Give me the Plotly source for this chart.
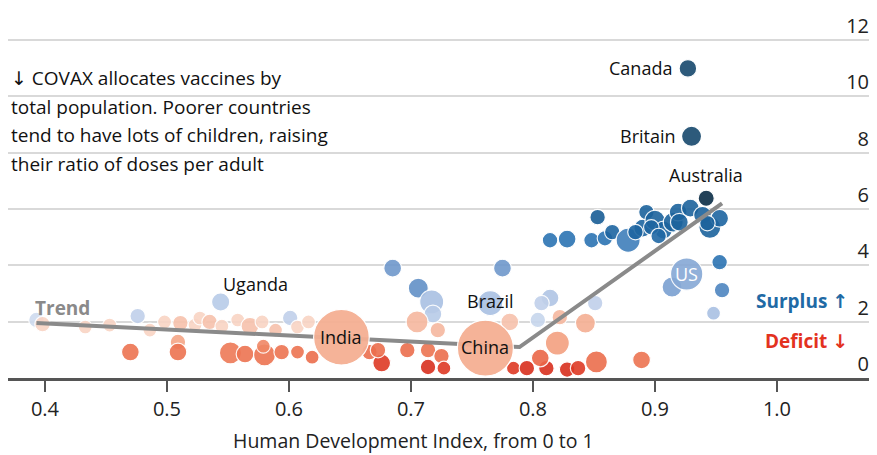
import plotly.graph_objects as go

# ---- data ----
hdi = [0.393, 0.398, 0.433, 0.453, 0.476, 0.486, 0.498, 0.511, 0.523, 0.527,
       0.535, 0.545, 0.544, 0.558, 0.568, 0.578, 0.589, 0.601, 0.607, 0.616,
       0.470, 0.509, 0.509, 0.552, 0.564, 0.580, 0.594, 0.607, 0.619, 0.579,
       0.666, 0.676,
       0.685, 0.706, 0.717, 0.718, 0.705, 0.722, 0.673, 0.697, 0.714, 0.725,
       0.714, 0.727, 0.775, 0.765, 0.781,
       0.784, 0.795, 0.811, 0.820, 0.828, 0.837,
       0.814, 0.807, 0.804, 0.851, 0.822, 0.843, 0.820, 0.806, 0.852, 0.889,
       0.814, 0.828, 0.848, 0.859, 0.865, 0.853, 0.878, 0.890, 0.893, 0.900,
       0.907, 0.915, 0.919, 0.929, 0.939, 0.945, 0.953, 0.920, 0.943, 0.897,
       0.884, 0.903,
       0.953, 0.955, 0.948, 0.914, 0.926, 0.927, 0.930, 0.942, 0.643, 0.761]
doses = [2.06, 1.91, 1.81, 1.88, 2.20, 1.70, 1.99, 1.95, 1.88, 2.13,
         1.99, 1.84, 2.70, 2.06, 1.84, 1.99, 1.70, 2.13, 1.81, 1.99,
         0.92, 1.28, 0.92, 0.89, 0.85, 0.82, 0.92, 0.92, 0.74, 1.13,
         0.92, 0.53,
         3.90, 3.19, 2.70, 2.27, 1.99, 1.70, 0.99, 0.99, 0.99, 0.78,
         0.39, 0.35, 3.90, 2.66, 1.99,
         0.35, 0.35, 0.35, -0.05, 0.30, 0.35,
         2.84, 2.66, 2.06, 2.66, 2.16, 1.95, 1.24, 0.71, 0.57, 0.64,
         4.89, 4.93, 4.89, 4.96, 5.18, 5.71, 4.89, 5.32, 5.89, 5.60,
         5.25, 5.53, 5.89, 6.03, 5.78, 5.35, 5.67, 5.53, 5.50, 5.35,
         5.18, 5.04,
         4.11, 3.12, 2.30, 3.23, 3.69, 10.99, 8.58, 6.38, 1.45, 1.06]
population = [20, 20, 10, 10, 20, 10, 10, 20, 10, 10,
              20, 10, 45, 10, 40, 10, 10, 20, 10, 10,
              40, 20, 40, 95, 40, 95, 20, 10, 10, 10,
              20, 40,
              40, 66, 130, 40, 95, 20, 20, 20, 20, 20,
              20, 10, 40, 150, 40,
              10, 20, 20, 20, 20, 20,
              40, 20, 20, 20, 20, 66, 130, 40, 95, 40,
              20, 40, 20, 20, 20, 20, 130, 40, 20, 66,
              40, 66, 40, 40, 40, 95, 40, 40, 20, 20,
              20, 20,
              20, 20, 10, 66, 330, 38, 67, 25, 1380, 1400]
balance = [0.5, 0.0, 0.0, 0.0, 0.7, 0.0, 0.0, -0.2, 0.0, 0.0,
           -0.2, 0.0, 0.8, 0.0, -0.2, 0.0, -0.2, 0.7, 0.0, 0.0,
           -1.3, -0.5, -1.3, -1.2, -1.3, -1.3, -1.3, -1.3, -1.4, -1.0,
           -1.4, -2.3,
           2.0, 2.2, 1.0, 0.8, -0.3, -0.3, -1.4, -1.4, -1.3, -1.4,
           -2.5, -2.3, 2.0, 1.0, -0.2,
           -2.3, -2.5, -2.5, -3.0, -2.5, -2.3,
           0.9, 0.7, 0.6, 0.7, -0.3, -0.4, -0.6, -1.5, -1.4, -1.3,
           3.0, 3.0, 3.0, 3.0, 3.5, 3.8, 2.7, 3.5, 3.6, 3.6,
           3.5, 3.6, 3.6, 3.6, 3.6, 3.6, 3.5, 3.6, 3.6, 3.5,
           3.5, 3.4,
           3.0, 2.5, 1.0, 1.8, 1.6, 5.0, 5.0, 6.0, -0.4, -0.4]

trend_hdi = [0.393, 0.789, 0.955]
trend_doses = [1.95, 1.10, 6.20]

x_ticks = [0.4, 0.5, 0.6, 0.7, 0.8, 0.9, 1.0]
x_tick_labels = ["0.4", "0.5", "0.6", "0.7", "0.8", "0.9", "1.0"]
y_ticks = [0, 2, 4, 6, 8, 10, 12]
x_title = "Human Development Index, from 0 to 1"

labels = [("Canada", 0.927, 10.99), ("Britain", 0.930, 8.58)]
ARROW = '<span style="font-family:DejaVu Sans">{}</span>'
note_lines = [ARROW.format("↓") + " COVAX allocates vaccines by",
              "total population. Poorer countries",
              "tend to have lots of children, raising",
              "their ratio of doses per adult"]

FONT = "Open Sans"

colorscale = [
    [0.000, "#bd1a14"], [0.056, "#d9301f"], [0.111, "#e6482f"],
    [0.200, "#ee7a57"], [0.278, "#f4a687"], [0.333, "#f9d4c4"],
    [0.389, "#cfdbef"], [0.444, "#a9c0e3"], [0.556, "#6f98cc"],
    [0.667, "#2c74b3"], [0.722, "#1d65a1"], [0.778, "#175a8f"],
    [0.889, "#17496d"], [1.000, "#0b2d47"],
]


def msize(p):
    return 10 + 46 * (p / 1400) ** 0.5


small = [i for i in range(len(hdi)) if population[i] < 1000]
big = [i for i in range(len(hdi)) if population[i] >= 1000]


def marker_for(idx, opacity):
    return dict(
        size=[msize(population[i]) for i in idx],
        color=[balance[i] for i in idx],
        colorscale=colorscale, cmin=-3, cmax=6,
        opacity=opacity,
        line=dict(color="white", width=1.2),
    )


fig = go.Figure()
fig.add_trace(go.Scatter(
    x=[hdi[i] for i in small], y=[doses[i] for i in small],
    mode="markers", marker=marker_for(small, 0.9),
    cliponaxis=False, hoverinfo="skip", showlegend=False))
fig.add_trace(go.Scatter(
    x=trend_hdi, y=trend_doses, mode="lines",
    line=dict(color="#8a8a8a", width=4),
    cliponaxis=False, hoverinfo="skip", showlegend=False))
fig.add_trace(go.Scatter(
    x=[hdi[i] for i in big], y=[doses[i] for i in big],
    mode="markers", marker=marker_for(big, 0.95),
    cliponaxis=False, hoverinfo="skip", showlegend=False))

LBL = dict(size=18, color="#111", family=FONT)
ann = []
for name, lx, ly in labels:
    ann.append(dict(x=lx, y=ly, text=name, showarrow=False, xanchor="right",
                    xshift=-14, font=LBL))
ann += [
    dict(x=0.942, y=6.38, text="Australia", showarrow=False, yshift=23, font=LBL),
    dict(x=0.5725, y=3.35, text="Uganda", showarrow=False, font=LBL),
    dict(x=0.765, y=2.75, text="Brazil", showarrow=False, font=LBL),
    dict(x=0.643, y=1.45, text="India", showarrow=False, font=LBL),
    dict(x=0.761, y=1.10, text="China", showarrow=False, font=LBL),
    dict(x=0.926, y=3.69, text="US", showarrow=False,
         font=dict(size=18, color="white", family=FONT)),
    dict(x=0.390, y=2.5, text="<b>Trend</b>", showarrow=False, xanchor="left",
         font=dict(size=19, color="#8a8a8a", family=FONT)),
    dict(x=1.06, y=2.75, text="<b>Surplus " + ARROW.format("↑") + "</b>",
         showarrow=False, xanchor="right",
         font=dict(size=19, color="#1f6aa5", family=FONT)),
    dict(x=1.06, y=1.33, text="<b>Deficit " + ARROW.format("↓") + "</b>",
         showarrow=False, xanchor="right",
         font=dict(size=19, color="#e3321f", family=FONT)),
    dict(xref="paper", yref="paper", x=0.469, y=0, yshift=-62, yanchor="middle",
         text=x_title, showarrow=False,
         font=dict(size=19.5, color="#222", family=FONT)),
]
for k, line in enumerate(note_lines):
    ann.append(dict(xref="paper", x=0, xshift=1, y=10.65 - 1.012 * k,
                    text=line, showarrow=False, xanchor="left", yanchor="middle",
                    font=dict(size=19, color="#111", family=FONT)))

fig.update_layout(
    width=869, height=447,
    margin=dict(l=0, r=5, t=0, b=77),
    paper_bgcolor="white", plot_bgcolor="white",
    font=dict(family=FONT, color="#222"),
    annotations=ann,
    xaxis=dict(
        range=[0.3697, 1.0779], tickvals=x_ticks, ticktext=x_tick_labels,
        showgrid=False, zeroline=False, showline=True, linecolor="#555",
        linewidth=2.5, ticks="outside", ticklen=11, tickwidth=1.5, tickcolor="#555",
        tickfont=dict(size=20, color="#222", family=FONT),
    ),
    yaxis=dict(
        range=[0, 370 / 28.17], tickvals=y_ticks, side="right",
        ticklabelposition="inside top", showgrid=True, gridcolor="#d9d9d9",
        gridwidth=1.5, zeroline=False, showline=False, ticks="",
        tickfont=dict(size=20, color="#222", family=FONT),
    ),
)

fig.write_html("out.html")
